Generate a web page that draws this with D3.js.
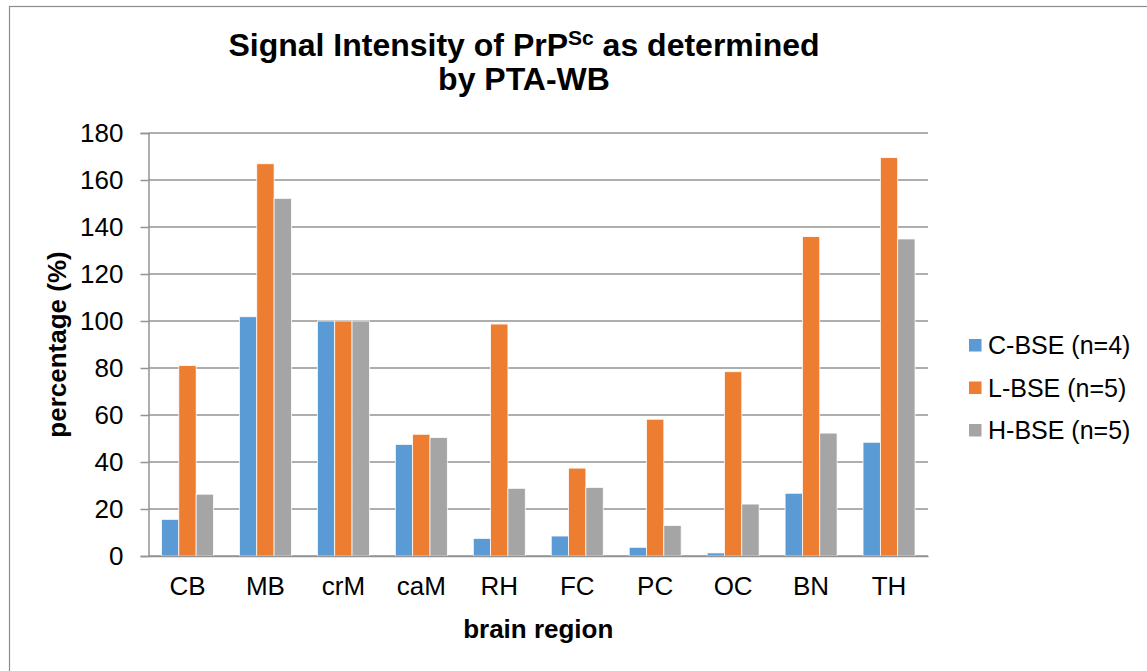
<!DOCTYPE html>
<html>
<head>
<meta charset="utf-8">
<script src="https://cdn.jsdelivr.net/npm/d3@7"></script>
<style>
  body { margin: 0; background: #fff; }
  svg { font-family: "Liberation Sans", Arial, sans-serif; }
</style>
</head>
<body>
<div id="chart-area"></div>
<script>
// brain regions along the x axis
var regions = ["CB", "MB", "crM", "caM", "RH", "FC", "PC", "OC", "BN", "TH"];
var seriesNames = ["C-BSE (n=4)", "L-BSE (n=5)", "H-BSE (n=5)"];
var seriesColors = ["#5B9BD5", "#ED7D31", "#A5A5A5"];

// percentages
var cBSE = [15.6, 101.8, 100, 47.5, 7.5, 8.5, 3.7, 1.3, 26.7, 48.4];
var lBSE = [81.0, 166.9, 100, 51.8, 98.7, 37.4, 58.2, 78.4, 135.9, 169.5];
var hBSE = [26.3, 152.2, 100, 50.4, 28.8, 29.2, 13.0, 22.1, 52.3, 134.9];
var yTicks = [0, 20, 40, 60, 80, 100, 120, 140, 160, 180];

var allSeries = [cBSE, lBSE, hBSE];

var svg = d3.select("#chart-area").append("svg")
    .attr("width", 1147)
    .attr("height", 671);

// outer chart border (runs off the right and bottom edge)
svg.append("rect")
    .attr("x", 9.5).attr("y", 6.5)
    .attr("width", 1300).attr("height", 800)
    .attr("fill", "none")
    .attr("stroke", "#8c8c8c")
    .attr("stroke-width", 1.2);

var plotLeft = 148.5, plotRight = 928, plotTop = 133, plotBottom = 556;

var x = d3.scaleBand()
    .domain(regions)
    .range([plotLeft, plotRight])
    .paddingInner(1 / 3)
    .paddingOuter(1 / 6);

var xSub = d3.scaleBand()
    .domain(d3.range(seriesNames.length))
    .range([0, x.bandwidth()]);

var y = d3.scaleLinear()
    .domain([0, 180])
    .range([plotBottom, plotTop]);

var gridColor = "#939393";

// horizontal gridlines
svg.append("g")
    .selectAll("line")
    .data(yTicks)
    .enter()
    .append("line")
    .attr("x1", plotLeft).attr("x2", plotRight)
    .attr("y1", function(d) { return y(d); })
    .attr("y2", function(d) { return y(d); })
    .attr("stroke", gridColor)
    .attr("stroke-width", 1.5);

// y axis with tick marks to the left
var yAxis = svg.append("g")
    .attr("transform", "translate(" + plotLeft + ",0)")
    .call(d3.axisLeft(y).tickValues(yTicks).tickSize(8).tickPadding(17));
yAxis.select(".domain").attr("stroke", gridColor).attr("stroke-width", 1.5);
yAxis.selectAll(".tick line").attr("stroke", gridColor).attr("stroke-width", 1.5);
yAxis.selectAll(".tick text")
    .attr("font-size", 26)
    .attr("font-family", "Liberation Sans, Arial, sans-serif")
    .attr("fill", "#000");

// bars, one group per region
var groups = svg.append("g")
    .selectAll("g")
    .data(regions)
    .enter()
    .append("g")
    .attr("transform", function(d) { return "translate(" + x(d) + ",0)"; });

groups.selectAll("rect")
    .data(function(d, i) {
        return allSeries.map(function(s, k) { return {k: k, v: s[i]}; });
    })
    .enter()
    .append("rect")
    .attr("x", function(d) { return xSub(d.k); })
    .attr("width", xSub.bandwidth())
    .attr("y", function(d) { return y(d.v); })
    .attr("height", function(d) { return y(0) - y(d.v); })
    .attr("fill", function(d) { return seriesColors[d.k]; })
    .attr("stroke", "#fff")
    .attr("stroke-width", 0.75);

// x axis baseline + labels
var xAxis = svg.append("g")
    .attr("transform", "translate(0," + plotBottom + ")")
    .call(d3.axisBottom(x).tickSize(0).tickPadding(21));
xAxis.select(".domain").attr("stroke", gridColor).attr("stroke-width", 1.5);
xAxis.selectAll(".tick text")
    .attr("font-size", 26)
    .attr("font-family", "Liberation Sans, Arial, sans-serif")
    .attr("fill", "#000");

// title, two lines with superscript
var title = svg.append("text")
    .attr("text-anchor", "middle")
    .attr("font-size", 32)
    .attr("font-weight", "bold");
var line1 = title.append("tspan").attr("x", 524).attr("y", 56);
line1.append("tspan").text("Signal Intensity of PrP");
line1.append("tspan").attr("font-size", 21).attr("dy", -11).text("Sc");
line1.append("tspan").attr("dy", 11).text(" as determined");
title.append("tspan").attr("x", 524).attr("y", 90).text("by PTA-WB");

// axis titles
svg.append("text")
    .attr("x", (plotLeft + plotRight) / 2).attr("y", 638)
    .attr("text-anchor", "middle")
    .attr("font-size", 26)
    .attr("font-weight", "bold")
    .text("brain region");

svg.append("text")
    .attr("transform", "translate(66," + ((plotTop + plotBottom) / 2) + ") rotate(-90)")
    .attr("text-anchor", "middle")
    .attr("font-size", 26)
    .attr("font-weight", "bold")
    .text("percentage (%)");

// legend
var legend = svg.append("g")
    .selectAll("g")
    .data(seriesNames)
    .enter()
    .append("g")
    .attr("transform", function(d, i) { return "translate(969," + (339 + i * 42.5) + ")"; });

legend.append("rect")
    .attr("width", 12.5).attr("height", 12.5)
    .attr("fill", function(d, i) { return seriesColors[i]; });

legend.append("text")
    .attr("x", 19).attr("y", 15)
    .attr("font-size", 25)
    .text(function(d) { return d; });
</script>
</body>
</html>
